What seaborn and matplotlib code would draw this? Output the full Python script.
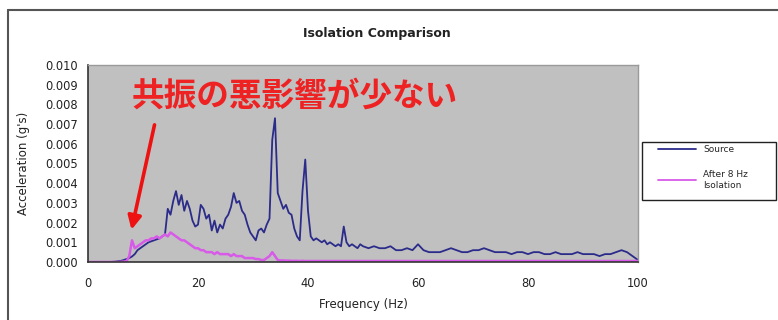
import numpy as np
import pandas as pd
import matplotlib
matplotlib.use("Agg")
import matplotlib.pyplot as plt
from matplotlib.lines import Line2D
from matplotlib.patches import Rectangle
import seaborn as sns

# ---- data ----
freq = [0, 0.5, 1, 1.5, 2, 2.5, 3, 3.5, 4, 4.5, 5, 5.5, 6, 6.5, 7, 7.5, 8, 8.5, 9, 9.5,
        10, 10.5, 11, 11.5, 12, 12.5, 13, 13.5, 14, 14.5, 15, 15.5, 16, 16.5, 17, 17.5, 18, 18.5, 19, 19.5,
        20, 20.5, 21, 21.5, 22, 22.5, 23, 23.5, 24, 24.5, 25, 25.5, 26, 26.5, 27, 27.5, 28, 28.5, 29, 29.5,
        30, 30.5, 31, 31.5, 32, 32.5, 33, 33.5, 34, 34.5, 35, 35.5, 36, 36.5, 37, 37.5, 38, 38.5, 39, 39.5,
        40, 40.5, 41, 41.5, 42, 42.5, 43, 43.5, 44, 44.5, 45, 45.5, 46, 46.5, 47, 47.5, 48, 48.5, 49, 49.5,
        50, 51, 52, 53, 54, 55, 56, 57, 58, 59, 60, 61, 62, 63, 64, 65, 66, 67, 68, 69,
        70, 71, 72, 73, 74, 75, 76, 77, 78, 79, 80, 81, 82, 83, 84, 85, 86, 87, 88, 89,
        90, 91, 92, 93, 94, 95, 96, 97, 98, 99, 100]

source = [0, 0, 0, 0, 0, 0, 0, 0, 0, 0.00001, 0.00002, 0.00004, 0.00006, 0.0001, 0.00015, 0.0002, 0.00028, 0.0004, 0.0006, 0.0007,
          0.0008, 0.0009, 0.001, 0.00105, 0.0011, 0.00115, 0.0012, 0.0013, 0.0014, 0.0027, 0.0024, 0.0031, 0.0036, 0.0029, 0.0034, 0.0026, 0.0031, 0.0027, 0.0021, 0.0018,
          0.0019, 0.0029, 0.0027, 0.0022, 0.0024, 0.0016, 0.0021, 0.0015, 0.0019, 0.0017, 0.0022, 0.0024, 0.0028, 0.0035, 0.0030, 0.0031, 0.0026, 0.0024, 0.0019, 0.0015,
          0.0013, 0.0011, 0.0016, 0.0017, 0.0015, 0.0019, 0.0022, 0.0062, 0.0073, 0.0035, 0.0031, 0.0027, 0.0029, 0.0025, 0.0024, 0.0017, 0.0013, 0.0011, 0.0036, 0.0052,
          0.0026, 0.0013, 0.0011, 0.0012, 0.0011, 0.0010, 0.0011, 0.0009, 0.0010, 0.0009, 0.0008, 0.0009, 0.0008, 0.0018, 0.0010, 0.0008, 0.0009, 0.0008, 0.0007, 0.0009,
          0.0008, 0.0007, 0.0008, 0.0007, 0.0007, 0.0008, 0.0006, 0.0006, 0.0007, 0.0006, 0.0009, 0.0006, 0.0005, 0.0005, 0.0005, 0.0006, 0.0007, 0.0006, 0.0005, 0.0005,
          0.0006, 0.0006, 0.0007, 0.0006, 0.0005, 0.0005, 0.0005, 0.0004, 0.0005, 0.0005, 0.0004, 0.0005, 0.0005, 0.0004, 0.0004, 0.0005, 0.0004, 0.0004, 0.0004, 0.0005,
          0.0004, 0.0004, 0.0004, 0.0003, 0.0004, 0.0004, 0.0005, 0.0006, 0.0005, 0.0003, 0.0001]

after = [0, 0, 0, 0, 0, 0, 0, 0, 0, 0, 0, 0, 0.00001, 0.00002, 0.00004, 0.0003, 0.0011, 0.0007, 0.0008, 0.0009,
         0.0010, 0.0011, 0.0011, 0.0012, 0.0012, 0.0013, 0.0012, 0.0013, 0.0014, 0.0013, 0.0015, 0.0014, 0.0013, 0.0012, 0.0011, 0.0011, 0.0010, 0.0009, 0.0008, 0.0007,
         0.0007, 0.0006, 0.0006, 0.0005, 0.0005, 0.0005, 0.0004, 0.0005, 0.0004, 0.0004, 0.0004, 0.0004, 0.0003, 0.0004, 0.0003, 0.0003, 0.0003, 0.0002, 0.0002, 0.0002,
         0.0002, 0.00015, 0.00015, 0.0001, 0.0001, 0.0002, 0.0003, 0.0005, 0.0003, 0.0001, 0.00008, 0.00008, 0.00007, 0.00007, 0.00006, 0.00006, 0.00006, 0.00005, 0.00006, 0.00005,
         0.00005, 0.00005, 0.00005, 0.00005, 0.00005, 0.00005, 0.00005, 0.00005, 0.00005, 0.00005, 0.00005, 0.00005, 0.00005, 0.00005, 0.00005, 0.00005, 0.00005, 0.00005, 0.00005, 0.00005,
         0.00005, 0.00005, 0.00005, 0.00005, 0.00005, 0.00005, 0.00005, 0.00005, 0.00005, 0.00005, 0.00005, 0.00005, 0.00005, 0.00005, 0.00005, 0.00005, 0.00005, 0.00005, 0.00005, 0.00005,
         0.00005, 0.00005, 0.00005, 0.00005, 0.00005, 0.00005, 0.00005, 0.00005, 0.00005, 0.00005, 0.00005, 0.00005, 0.00005, 0.00005, 0.00005, 0.00005, 0.00005, 0.00005, 0.00005, 0.00005,
         0.00005, 0.00005, 0.00005, 0.00005, 0.00005, 0.00005, 0.00005, 0.00005, 0.00005, 0.00005, 0.00005]

series_names = ["Source", "After 8 Hz\nIsolation"]
x_ticks = [0, 20, 40, 60, 80, 100]
y_ticks = [0.000, 0.001, 0.002, 0.003, 0.004, 0.005, 0.006, 0.007, 0.008, 0.009, 0.010]
title = "Isolation Comparison"
x_label = "Frequency (Hz)"
y_label = "Acceleration (g's)"
annotation = "共振の悪影響が少ない"

# ---- build long table ----
df = pd.DataFrame({
    "freq": freq * 2,
    "acc": source + after,
    "series": [series_names[0]] * len(freq) + [series_names[1]] * len(freq),
})

sns.set_style("white")
plt.rcParams["font.family"] = ["DejaVu Sans"]

fig = plt.figure(figsize=(7.78, 3.2), dpi=100)
fig.patch.set_facecolor("white")
ax = fig.add_axes([88 / 778, 58 / 320, 550 / 778, 197 / 320])
ax.set_facecolor("#c0c0c0")

colors = {series_names[0]: "#2b2b8a", series_names[1]: "#d85ae8"}
sns.lineplot(data=df[df.series == series_names[0]], x="freq", y="acc", color=colors[series_names[0]],
             lw=1.3, ax=ax, legend=False)
sns.lineplot(data=df[df.series == series_names[1]], x="freq", y="acc", color=colors[series_names[1]],
             lw=1.8, ax=ax, legend=False)

ax.set_xlim(0, 100)
ax.set_ylim(0, 0.010)
ax.set_xticks(x_ticks)
ax.set_yticks(y_ticks)
ax.set_yticklabels([f"{v:.3f}" for v in y_ticks])
ax.tick_params(axis="both", direction="inout", length=5, width=1, labelsize=8.3, colors="#222222")
ax.tick_params(axis="x", pad=8)
ax.tick_params(axis="y", pad=5)
ax.set_xlabel(x_label, fontsize=8.5, color="#222222", labelpad=6)
ax.set_ylabel(y_label, fontsize=8.5, color="#222222", labelpad=11)
ax.grid(False)
for s in ["left", "bottom"]:
    ax.spines[s].set_color("#333333")
    ax.spines[s].set_linewidth(1.2)
for s in ["top", "right"]:
    ax.spines[s].set_color("#9a9a9a")
    ax.spines[s].set_linewidth(1.0)

fig.text(377 / 778, 1 - 33 / 320, title, ha="center", va="center", fontsize=9, fontweight="bold",
         color="#222222")

# annotation text and arrow
ax.text(8.0, 0.0084, annotation, fontsize=23.5, fontweight="bold", color="#ee2222",
        family=["Noto Sans CJK JP", "DejaVu Sans"], ha="left", va="center")
ax.annotate("", xy=(7.8, 0.0015), xytext=(12.2, 0.0071),
            arrowprops=dict(arrowstyle="-|>,head_width=0.4,head_length=0.8", color="#ee1111", lw=2.6))

# legend (frame drawn as its own box)
handles = [Line2D([0], [0], color=colors[n], lw=1.3) for n in series_names]
leg = fig.legend(handles, series_names, loc="upper left", bbox_to_anchor=(658 / 778, 1 - 145 / 320),
                 fontsize=6.5, frameon=False, handlelength=4.2, handletextpad=0.8,
                 borderpad=0, labelspacing=1.8, borderaxespad=0)
fig.add_artist(Rectangle((642 / 778, 1 - 200 / 320), 134 / 778, 58 / 320, transform=fig.transFigure,
                         fill=False, edgecolor="#222222", lw=1.0))

# outer chart border (top and left visible)
fig.add_artist(Line2D([8 / 778, 1.0], [1 - 10 / 320, 1 - 10 / 320], color="#555555", lw=1.5))
fig.add_artist(Line2D([8 / 778, 8 / 778], [0.0, 1 - 10 / 320], color="#555555", lw=1.5))

fig.savefig("out.png", dpi=100)
